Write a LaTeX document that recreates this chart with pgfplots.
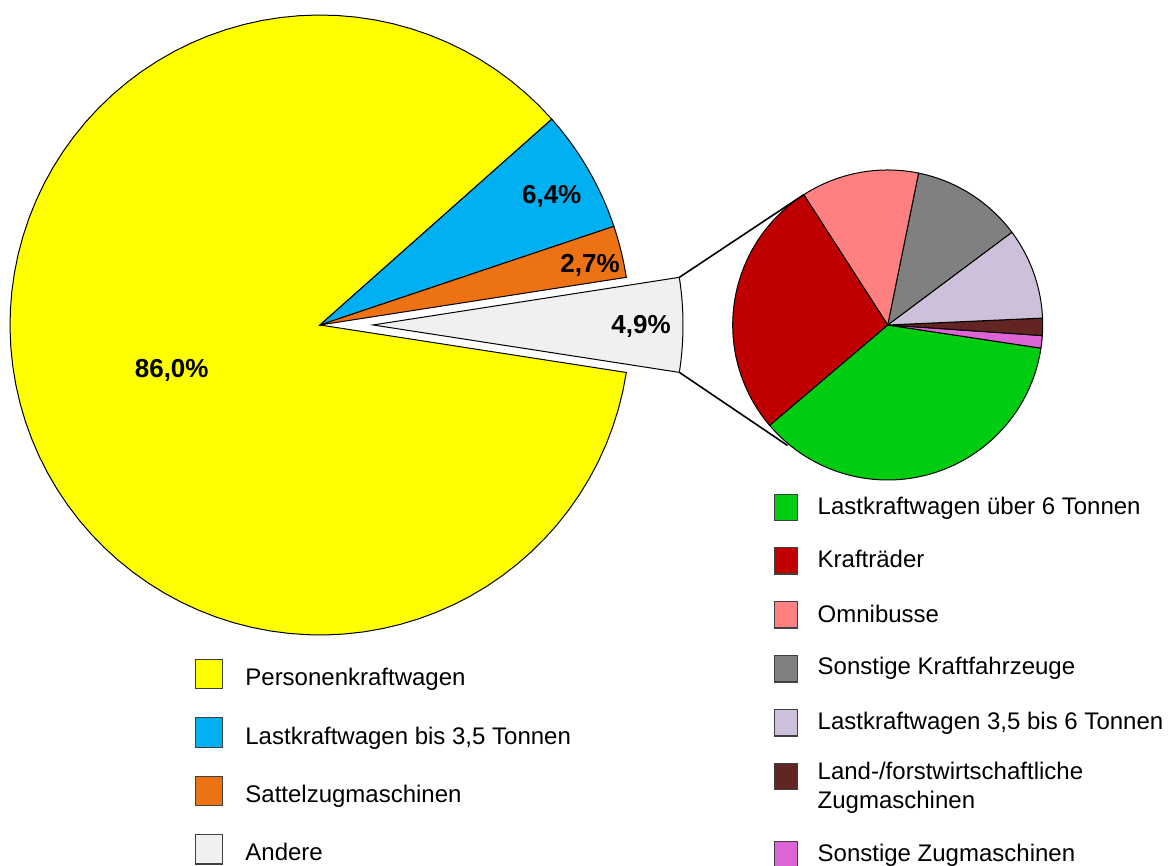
\documentclass[border=0pt]{standalone}
\usepackage{fontspec}
\setmainfont{Liberation Sans}
\usepackage{pgfplots}
\usepackage{pgfplotstable}
\pgfplotsset{compat=1.18}

\definecolor{cPkw}{HTML}{FFFF00}
\definecolor{cLkw}{HTML}{00B0F0}
\definecolor{cSat}{HTML}{EC7214}
\definecolor{cAnd}{HTML}{F0F0F0}
\definecolor{cGreen}{HTML}{00CC11}
\definecolor{cRed}{HTML}{C00000}
\definecolor{cPink}{HTML}{FF8080}
\definecolor{cGray}{HTML}{808080}
\definecolor{cLav}{HTML}{CCC0DA}
\definecolor{cBrown}{HTML}{632523}
\definecolor{cMag}{HTML}{DC64D6}

% main pie: Personenkraftwagen, Lkw bis 3,5 t, Sattelzugmaschinen, Andere
\pgfplotstableread{
share
86.0
6.4
2.7
4.9
}\maindata
% secondary pie (share of "Andere")
\pgfplotstableread{
share
36.4
27.1
12.3
11.6
9.5
1.8
1.3
}\subdata

\newcommand{\getshare}[3]{\pgfplotstablegetelem{#2}{share}\of#1\xdef#3{\pgfplotsretval}}
\newcommand{\slice}[6]{%
  \addplot[draw=black, line width=0.5pt, fill=#6, domain=#4:#5, samples=90, variable=\t]
    ({#1+#3*cos(\t)},{#2+#3*sin(\t)}) -- (axis cs:#1,#2) -- cycle;
}

\begin{document}
\begin{tikzpicture}[font=\fontsize{12}{14.4}\selectfont]
\getshare\maindata{0}\vPkw
\getshare\maindata{1}\vLkw
\getshare\maindata{2}\vSat
\getshare\maindata{3}\vAnd
\getshare\subdata{0}\wGreen
\getshare\subdata{1}\wRed
\getshare\subdata{2}\wPink
\getshare\subdata{3}\wGray
\getshare\subdata{4}\wLav
\getshare\subdata{5}\wBrown
\getshare\subdata{6}\wMag
% main pie angles
\pgfmathsetmacro\mA{-8.8}
\pgfmathsetmacro\mB{\mA+3.6*\vAnd}
\pgfmathsetmacro\mC{\mB+3.6*\vSat}
\pgfmathsetmacro\mD{\mC+3.6*\vLkw}
\pgfmathsetmacro\mE{\mD+3.6*\vPkw}
\pgfmathsetmacro\gx{320+53*cos((\mA+\mB)/2)}
\pgfmathsetmacro\gy{541+53*sin((\mA+\mB)/2)}
% secondary pie angles
\pgfmathsetmacro\sB{-8.6}
\pgfmathsetmacro\sA{\sB-3.6*\wGreen}
\pgfmathsetmacro\sC{\sB+3.6*\wMag}
\pgfmathsetmacro\sD{\sC+3.6*\wBrown}
\pgfmathsetmacro\sE{\sD+3.6*\wLav}
\pgfmathsetmacro\sF{\sE+3.6*\wGray}
\pgfmathsetmacro\sG{\sF+3.6*\wPink}
\pgfmathsetmacro\sH{\sG+3.6*\wRed}
\begin{axis}[x=0.5pt, y=0.5pt, xmin=0, xmax=1168, ymin=0, ymax=866,
  hide axis, clip=false, enlargelimits=false]
\coordinate (BL) at (axis cs:0,0);
\coordinate (TR) at (axis cs:1168,866);
% main pie
\slice{320}{541}{310}{\mD}{\mE}{cPkw}
\slice{320}{541}{310}{\mC}{\mD}{cLkw}
\slice{320}{541}{310}{\mB}{\mC}{cSat}
\slice{\gx}{\gy}{310}{\mA}{\mB}{cAnd}
% secondary pie
\slice{887.7}{541}{155}{\sA}{\sB}{cGreen}
\slice{887.7}{541}{155}{\sB}{\sC}{cMag}
\slice{887.7}{541}{155}{\sC}{\sD}{cBrown}
\slice{887.7}{541}{155}{\sD}{\sE}{cLav}
\slice{887.7}{541}{155}{\sE}{\sF}{cGray}
\slice{887.7}{541}{155}{\sF}{\sG}{cPink}
\slice{887.7}{541}{155}{\sG}{\sH}{cRed}
% connector lines
\addplot[black, line width=0.8pt] coordinates {(679.3,588.6) (803.3,671.0)};
\addplot[black, line width=0.8pt] coordinates {(679.4,493.6) (787.5,420.5)};
% value labels
\begin{scope}[every node/.style={font=\fontsize{13}{15}\selectfont\bfseries, inner sep=0pt}]
\node at (axis cs:551.7,669.3) {6,4\%};
\node at (axis cs:590,601) {2,7\%};
\node at (axis cs:641,539.3) {4,9\%};
\node at (axis cs:171.7,496) {86,0\%};
\end{scope}
% left legend
\begin{scope}[every node/.style={inner sep=0pt}]
\node[draw=black!75, line width=0.6pt, fill=cPkw, minimum width=13.6pt, minimum height=14.8pt] at (axis cs:208.9,192) {};
\node[draw=black!75, line width=0.6pt, fill=cLkw, minimum width=13.6pt, minimum height=14.8pt] at (axis cs:208.9,133.3) {};
\node[draw=black!75, line width=0.6pt, fill=cSat, minimum width=13.6pt, minimum height=14.8pt] at (axis cs:208.9,75) {};
\node[draw=black!75, line width=0.6pt, fill=cAnd, minimum width=13.6pt, minimum height=14.8pt] at (axis cs:208.9,16.7) {};
\node[anchor=base west] at (axis cs:245,180.3) {Personenkraftwagen};
\node[anchor=base west] at (axis cs:245,121.9) {Lastkraftwagen bis 3,5 Tonnen};
\node[anchor=base west] at (axis cs:245,63.5) {Sattelzugmaschinen};
\node[anchor=base west] at (axis cs:245,5.1) {Andere};
% right legend
\node[draw=black!75, line width=0.6pt, fill=cGreen, minimum width=11.4pt, minimum height=13.1pt] at (axis cs:786,358.7) {};
\node[draw=black!75, line width=0.6pt, fill=cRed, minimum width=11.4pt, minimum height=13.1pt] at (axis cs:786,305) {};
\node[draw=black!75, line width=0.6pt, fill=cPink, minimum width=11.4pt, minimum height=13.1pt] at (axis cs:786,251) {};
\node[draw=black!75, line width=0.6pt, fill=cGray, minimum width=11.4pt, minimum height=13.1pt] at (axis cs:786,197) {};
\node[draw=black!75, line width=0.6pt, fill=cLav, minimum width=11.4pt, minimum height=13.1pt] at (axis cs:786,143) {};
\node[draw=black!75, line width=0.6pt, fill=cBrown, minimum width=11.4pt, minimum height=13.1pt] at (axis cs:786,89.3) {};
\node[draw=black!75, line width=0.6pt, fill=cMag, minimum width=11.4pt, minimum height=13.1pt] at (axis cs:786,11.7) {};
\node[anchor=base west] at (axis cs:817.3,351.7) {Lastkraftwagen über 6 Tonnen};
\node[anchor=base west] at (axis cs:817.3,298.7) {Krafträder};
\node[anchor=base west] at (axis cs:817.3,243.3) {Omnibusse};
\node[anchor=base west] at (axis cs:817.3,191) {Sonstige Kraftfahrzeuge};
\node[anchor=base west] at (axis cs:817.3,136) {Lastkraftwagen 3,5 bis 6 Tonnen};
\node[anchor=base west] at (axis cs:817.3,86) {Land-/forstwirtschaftliche};
\node[anchor=base west] at (axis cs:817.3,57.7) {Zugmaschinen};
\node[anchor=base west] at (axis cs:817.3,4.3) {Sonstige Zugmaschinen};
\end{scope}
\end{axis}
\pgfresetboundingbox
\path[use as bounding box] (BL) rectangle (TR);
\end{tikzpicture}
\end{document}
